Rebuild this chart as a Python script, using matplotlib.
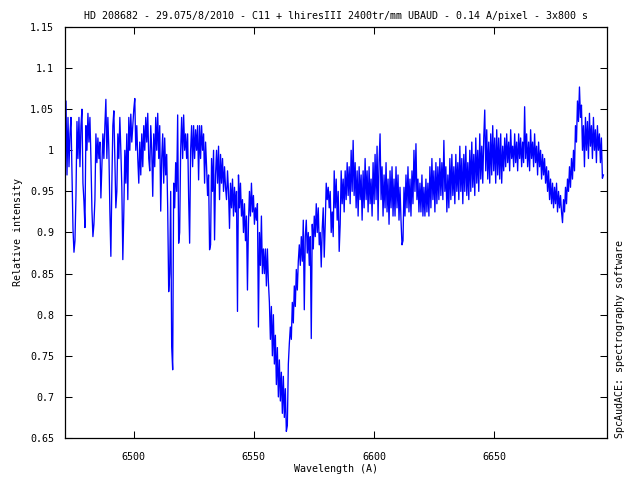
import numpy as np
import matplotlib
matplotlib.use("Agg")
import matplotlib.pyplot as plt

# spectrum calibration (linear dispersion)
wl_start = 6471.4
wl_step = 0.415

# relative intensity
flux = [
    1.03, 1.06, 0.97, 1.04, 0.98, 1.02, 1.04, 0.97, 0.905, 0.876,
    0.89, 0.945, 1.035, 0.99, 1.04, 0.98, 1.03, 1.05, 0.96, 0.938,
    0.906, 1.03, 1.0, 1.045, 1.01, 1.04, 0.99, 0.928, 0.895, 0.91,
    0.94, 1.02, 0.985, 1.015, 0.99, 1.01, 0.942, 0.98, 1.02, 0.99,
    1.03, 1.062, 0.99, 1.04, 1.0, 0.926, 0.871, 0.96, 1.03, 1.048,
    0.99, 0.93, 0.95, 1.02, 0.99, 1.04, 1.0, 0.955, 0.867, 0.925,
    1.0, 0.96, 1.02, 0.94, 1.04, 1.0, 1.044, 1.01, 1.03, 1.05,
    1.063, 1.0, 1.03, 0.99, 0.96, 1.01, 0.97, 1.02, 0.98, 1.03,
    1.0, 1.04, 1.01, 1.045, 0.99, 0.975, 1.03, 1.0, 0.944, 1.02,
    0.98, 1.04, 1.0, 1.045, 0.99, 1.03, 0.926, 0.99, 1.02, 0.96,
    1.015, 0.97, 0.995, 0.93, 0.828, 0.85, 0.95, 0.761, 0.733, 0.96,
    0.93, 0.985, 0.95, 1.043, 0.887, 0.9, 1.0, 1.04, 0.99, 1.043,
    1.0, 1.02, 0.99, 1.02, 0.942, 0.887, 1.0, 1.03, 0.98, 1.03,
    0.99, 1.025, 1.0, 1.03, 0.964, 1.03, 0.99, 1.03, 1.0, 1.02,
    0.96, 1.01, 0.98, 0.945, 0.97, 0.879, 0.885, 0.99, 0.95, 1.0,
    0.891, 0.97, 1.0, 0.96, 1.005, 0.94, 0.995, 0.96, 0.99, 0.95,
    0.98, 0.955, 0.94, 0.975, 0.95, 0.905, 0.96, 0.93, 0.965, 0.92,
    0.955, 0.925, 0.95, 0.804, 0.97, 0.93, 0.96, 0.92, 0.94, 0.9,
    0.935, 0.89, 0.92, 0.83, 0.91, 0.95, 0.92, 0.96, 0.925, 0.945,
    0.91, 0.93, 0.915, 0.935, 0.785, 0.9, 0.86, 0.92, 0.85, 0.88,
    0.85, 0.88, 0.835, 0.88, 0.84, 0.815, 0.77, 0.81, 0.75, 0.8,
    0.74, 0.775, 0.715, 0.76, 0.70, 0.745, 0.695, 0.73, 0.68, 0.725,
    0.675, 0.71, 0.658, 0.665, 0.74, 0.765, 0.785, 0.77, 0.815, 0.79,
    0.835, 0.81, 0.855, 0.83, 0.865, 0.885, 0.86, 0.895, 0.865, 0.915,
    0.806, 0.895, 0.915, 0.875, 0.9, 0.86, 0.895, 0.771, 0.91, 0.88,
    0.92, 0.895, 0.935, 0.9, 0.93, 0.885, 0.9, 0.858, 0.905, 0.93,
    0.87, 0.91, 0.96, 0.94, 0.955, 0.93, 0.95, 0.9, 0.925, 0.895,
    0.975, 0.93, 0.965, 0.915, 0.95, 0.877, 0.91, 0.975, 0.935, 0.965,
    0.925, 0.975, 0.94, 0.985, 0.945, 0.98, 0.935, 1.0, 0.95, 1.012,
    0.945, 0.985, 0.93, 0.975, 0.92, 0.98, 0.94, 0.97, 0.915, 0.975,
    0.93, 0.99, 0.94, 0.975, 0.925, 0.98, 0.935, 0.965, 0.92, 0.985,
    0.935, 0.995, 0.94, 1.005, 0.915, 0.985, 1.02, 0.94, 0.98, 0.92,
    0.97, 0.93, 0.985, 0.925, 0.965, 0.91, 0.975, 0.93, 0.98, 0.92,
    0.965, 0.92, 0.98, 0.93, 0.97, 0.915, 0.955, 0.915, 0.885, 0.89,
    0.955, 0.92, 0.97, 0.93, 0.98, 0.925, 0.965, 0.92, 0.975, 0.935,
    1.0, 0.95, 1.008, 0.94, 0.965, 0.925, 0.96, 0.925, 0.97, 0.92,
    0.955, 0.92, 0.965, 0.925, 0.96, 0.92, 0.98, 0.93, 0.99, 0.94,
    0.975, 0.925, 0.985, 0.935, 0.98, 0.94, 0.99, 0.945, 0.985, 0.94,
    1.012, 0.95, 0.98, 0.925, 0.97, 0.93, 0.99, 0.94, 0.995, 0.945,
    0.98, 0.935, 0.995, 0.95, 0.985, 0.94, 1.005, 0.95, 0.99, 0.935,
    0.995, 0.95, 1.005, 0.945, 0.985, 0.94, 1.0, 0.95, 1.01, 0.955,
    0.995, 0.945, 1.015, 0.96, 1.0, 0.95, 1.02, 0.965, 1.005, 0.96,
    1.015, 1.049, 0.975, 1.025, 0.965, 1.01, 0.96, 1.02, 0.97, 1.03,
    0.975, 1.015, 0.96, 1.025, 0.97, 1.015, 0.965, 1.02, 0.96, 1.005,
    0.975, 1.015, 0.98, 1.02, 0.985, 1.01, 0.975, 1.025, 0.99, 1.005,
    0.98, 1.02, 0.985, 1.01, 0.975, 1.02, 0.99, 1.015, 0.98, 1.01,
    0.985, 1.053, 0.99, 1.02, 0.98, 1.01, 0.975, 1.025, 0.99, 1.01,
    0.98, 1.02, 0.985, 1.005, 0.97, 1.01, 0.98, 1.0, 0.965, 0.995,
    0.97, 0.99, 0.96, 0.98, 0.95, 0.975, 0.94, 0.965, 0.935, 0.96,
    0.93, 0.955, 0.935, 0.96, 0.925, 0.95, 0.93, 0.945, 0.925, 0.912,
    0.94, 0.925, 0.955, 0.935, 0.965, 0.95, 0.98, 0.955, 0.99, 0.965,
    1.0, 0.975, 1.03, 1.01, 1.06, 1.035, 1.077, 1.04, 1.055, 1.0,
    1.03, 0.98, 1.04, 1.0, 1.035, 0.99, 1.045, 1.005, 1.03, 0.99,
    1.04, 1.0, 1.025, 0.985, 1.03, 1.0, 1.02, 0.985, 1.015, 0.966,
    0.97,
]

x_ticks = [6500, 6550, 6600, 6650]
y_ticks = [0.65, 0.7, 0.75, 0.8, 0.85, 0.9, 0.95, 1.0, 1.05, 1.1, 1.15]
y_tick_labels = ["0.65", "0.7", "0.75", "0.8", "0.85", "0.9", "0.95", "1", "1.05", "1.1", "1.15"]

title = "HD 208682 - 29.075/8/2010 - C11 + lhiresIII 2400tr/mm UBAUD - 0.14 A/pixel - 3x800 s"

wavelength = wl_start + wl_step * np.arange(len(flux))

plt.rcParams["font.family"] = "DejaVu Sans Mono"
fs = 7.2

fig = plt.figure(figsize=(6.4, 4.8), dpi=100)
ax = fig.add_axes([65 / 640, 42 / 480, 542 / 640, 411 / 480])

ax.plot(wavelength, flux, color="#0000ff", linewidth=0.95)

ax.set_xlim(6471.4, 6697.0)
ax.set_ylim(0.65, 1.15)
ax.set_xticks(x_ticks)
ax.set_xticklabels([str(t) for t in x_ticks])
ax.set_yticks(y_ticks)
ax.set_yticklabels(y_tick_labels)
ax.tick_params(direction="in", length=5, width=0.75, top=True, right=True, labelsize=fs)
ax.tick_params(axis="x", pad=10)
ax.tick_params(axis="y", pad=8)
for spine in ax.spines.values():
    spine.set_linewidth(0.9)

ax.set_ylabel("Relative intensity", fontsize=fs, labelpad=5)
ax.set_title(title, fontsize=fs, pad=6)

fig.text(336 / 640, 11 / 480, "Wavelength (A)", ha="center", va="center", fontsize=fs)
fig.text(620 / 640, 42 / 480, "SpcAudACE: spectrography software",
         rotation=90, ha="center", va="bottom", fontsize=fs)

fig.savefig("out.png", dpi=100)
